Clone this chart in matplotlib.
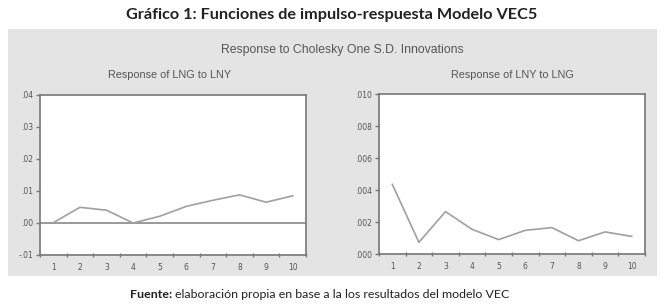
import matplotlib
matplotlib.use("Agg")
import matplotlib.pyplot as plt
from matplotlib.patches import Rectangle

periods = [1, 2, 3, 4, 5, 6, 7, 8, 9, 10]
lng_to_lny = [0.0001, 0.0049, 0.0040, 0.0000, 0.0021, 0.0052, 0.0071, 0.0088, 0.0065, 0.0085]
lny_to_lng = [0.00435, 0.00073, 0.00265, 0.00154, 0.00090, 0.00148, 0.00165, 0.00083, 0.00138, 0.00110]
left_yticks = [-0.01, 0.00, 0.01, 0.02, 0.03, 0.04]
left_ylabels = ["-.01", ".00", ".01", ".02", ".03", ".04"]
right_yticks = [0.000, 0.002, 0.004, 0.006, 0.008, 0.010]
right_ylabels = [".000", ".002", ".004", ".006", ".008", ".010"]

W, H = 664, 307
fig = plt.figure(figsize=(W / 100, H / 100), dpi=100)
fig.patch.set_facecolor("white")

# gray panel
fig.patches.append(Rectangle((8 / W, 1 - 276 / H), (657 - 8) / W, (276 - 29) / H,
                             transform=fig.transFigure, facecolor="#e4e4e4",
                             edgecolor="none", zorder=-5))

fig.text(332 / W, 1 - 15 / H, "Gráfico 1: Funciones de impulso-respuesta Modelo VEC5",
         ha="center", va="center", fontsize=11.7, fontweight="bold", color="#222222",
         family="Lato")
fig.text(342 / W, 1 - 50 / H, "Response to Cholesky One S.D. Innovations",
         ha="center", va="center", fontsize=8.8, color="#555555", family="Liberation Sans")

gray = "#777777"
line_c = "#a0a0a0"


def setup(ax, yticks, ylabels):
    ax.set_facecolor("white")
    ax.set_xlim(0.5, 10.5)
    ax.set_ylim(yticks[0], yticks[-1])
    ax.set_yticks(yticks)
    ax.set_yticklabels(ylabels)
    ax.set_xticks(periods)
    ax.set_xticklabels([str(p) for p in periods])
    ax.set_xticks([p + 0.5 for p in [0] + periods], minor=True)
    ax.tick_params(axis="x", which="major", length=0, pad=6, labelsize=5.5, labelcolor="#555555")
    ax.tick_params(axis="x", which="minor", length=3, direction="inout", color=gray, width=1)
    ax.tick_params(axis="y", which="major", length=3, direction="out", color=gray, width=1,
                   labelsize=5.5, labelcolor="#555555", pad=2)
    for s in ax.spines.values():
        s.set_color(gray)
        s.set_linewidth(1.2)


ax1 = fig.add_axes([40 / W, 1 - 255 / H, (306 - 40) / W, (255 - 95) / H])
setup(ax1, left_yticks, left_ylabels)
ax1.axhline(0, color="#888888", lw=1.2)
ax1.plot(periods, lng_to_lny, color=line_c, lw=1.2)
fig.text(170 / W, 1 - 75 / H, "Response of LNG to LNY", ha="center", va="center",
         fontsize=7.8, color="#555555", family="Liberation Sans")

ax2 = fig.add_axes([379 / W, 1 - 254 / H, (645 - 379) / W, (254 - 94) / H])
setup(ax2, right_yticks, right_ylabels)
ax2.plot(periods, lny_to_lng, color=line_c, lw=1.2)
fig.text(512 / W, 1 - 75 / H, "Response of LNY to LNG", ha="center", va="center",
         fontsize=7.8, color="#555555", family="Liberation Sans")

fig.text(172 / W, 1 - 294 / H, "Fuente:", ha="right", va="center", fontsize=8.9,
         fontweight="bold", color="#222222", family="Lato")
fig.text(175 / W, 1 - 294 / H, "elaboración propia en base a la los resultados del modelo VEC",
         ha="left", va="center", fontsize=8.9, color="#222222", family="Lato")

fig.savefig("out.png", dpi=100, facecolor="white")
